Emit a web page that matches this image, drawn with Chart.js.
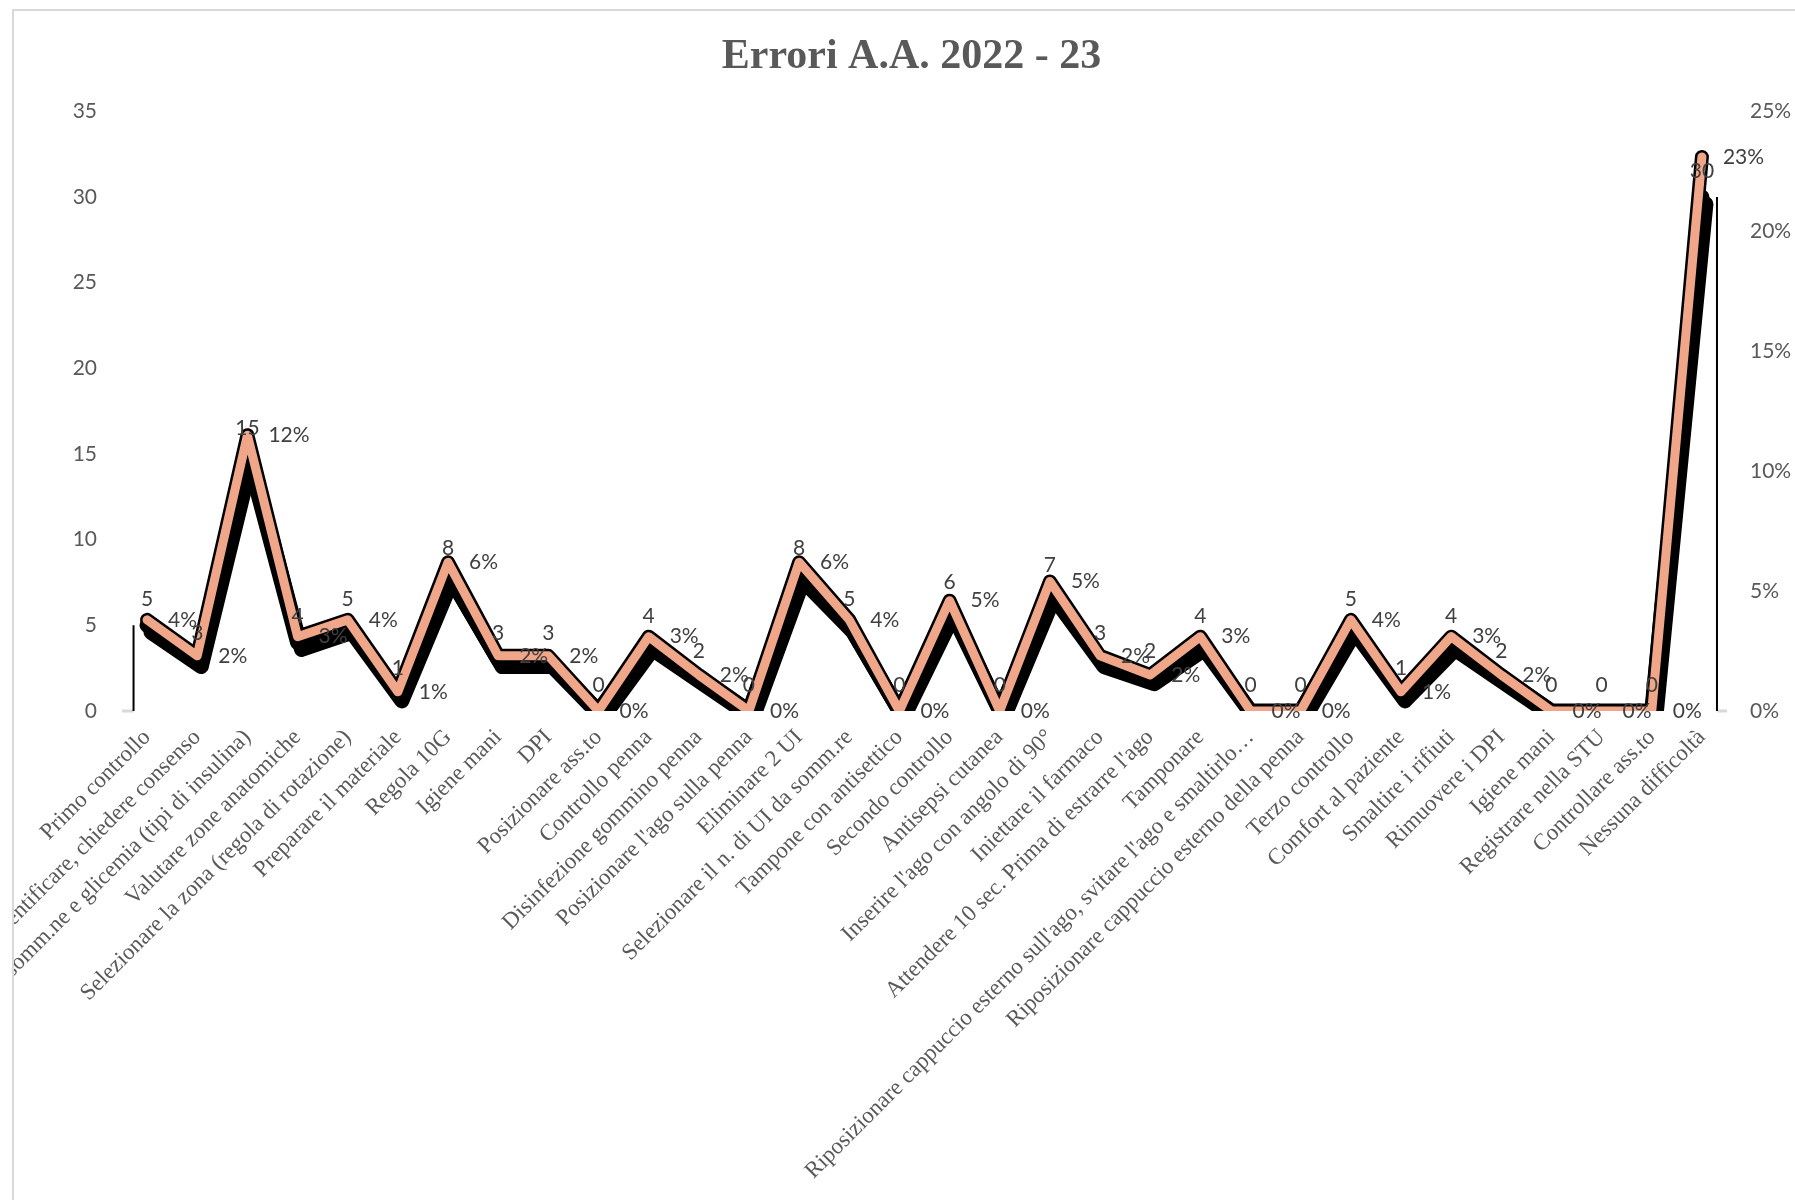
<!DOCTYPE html>
<html>
<head>
<meta charset="utf-8">
<script src="https://cdn.jsdelivr.net/npm/chart.js@4.4.1/dist/chart.umd.min.js"></script>
<style>
  html, body { margin: 0; padding: 0; background: #fff; overflow: hidden; }
  #frame {
    position: absolute; left: 12px; top: 9px; width: 1800px; height: 1200px;
    border-top: 2px solid #d9d9d9; border-left: 2px solid #d9d9d9;
  }
  #chart { position: absolute; left: 14px; top: 11px; }
</style>
</head>
<body>
<div id="frame"></div>
<canvas id="chart" width="1795" height="1189"></canvas>
<script>
// Errori A.A. 2022 - 23 : numero errori per passaggio + percentuale sul totale
const categories = [
  "Primo controllo",
  "Identificare, chiedere consenso",
  "Verificare via di somm.ne e glicemia (tipi di insulina)",
  "Valutare zone anatomiche",
  "Selezionare la zona (regola di rotazione)",
  "Preparare il materiale",
  "Regola 10G",
  "Igiene mani",
  "DPI",
  "Posizionare ass.to",
  "Controllo penna",
  "Disinfezione gommino penna",
  "Posizionare l'ago sulla penna",
  "Eliminare 2 UI",
  "Selezionare il n. di UI da somm.re",
  "Tampone con antisettico",
  "Secondo controllo",
  "Antisepsi cutanea",
  "Inserire l'ago con angolo di 90°",
  "Iniettare il farmaco",
  "Attendere 10 sec. Prima di estrarre l'ago",
  "Tamponare",
  "Riposizionare cappuccio esterno sull'ago, svitare l'ago e smaltirlo…",
  "Riposizionare cappuccio esterno della penna",
  "Terzo controllo",
  "Comfort al paziente",
  "Smaltire i rifiuti",
  "Rimuovere i DPI",
  "Igiene mani",
  "Registrare nella STU",
  "Controllare ass.to",
  "Nessuna difficoltà"
];

const errorCounts = [5, 3, 15, 4, 5, 1, 8, 3, 3, 0, 4, 2, 0, 8, 5, 0, 6, 0, 7, 3, 2, 4, 0, 0, 5, 1, 4, 2, 0, 0, 0, 30];

const errorPercents = [3.8, 2.3, 11.5, 3.1, 3.8, 0.8, 6.2, 2.3, 2.3, 0, 3.1, 1.5, 0, 6.2, 3.8, 0, 4.6, 0, 5.4, 2.3, 1.5, 3.1, 0, 0, 3.8, 0.8, 3.1, 1.5, 0, 0, 0, 23.1];

const countTicks = [0, 5, 10, 15, 20, 25, 30, 35];
const percentTicks = [0, 5, 10, 15, 20, 25];

const SALMON = "#f0a688";
const LABEL_COLOR = "#404040";
const AXIS_COLOR = "#595959";

// black shadow under the count line, black rim under the percent line
const lineEffects = {
  id: "lineEffects",
  beforeDatasetDraw: (chart, args) => {
    const ctx = chart.ctx;
    ctx.save();
    if (args.index === 1) {
      ctx.shadowColor = "#000";
      ctx.shadowBlur = 0;
      ctx.shadowOffsetX = 4;
      ctx.shadowOffsetY = 7;
    }
    if (args.index === 0) {
      const pts = args.meta.data;
      const a = chart.chartArea;
      ctx.save();
      ctx.beginPath();
      ctx.rect(a.left, a.top, a.right - a.left, a.bottom - a.top);
      ctx.clip();
      ctx.beginPath();
      pts.forEach((p, i) => (i ? ctx.lineTo(p.x, p.y) : ctx.moveTo(p.x, p.y)));
      ctx.strokeStyle = "#000";
      ctx.lineWidth = 14;
      ctx.lineJoin = "round";
      ctx.lineCap = "round";
      ctx.stroke();
      ctx.restore();
    }
  },
  afterDatasetDraw: (chart) => {
    chart.ctx.restore();
  },
};

// thin drop lines at both ends + grey axis stubs
const endLines = {
  id: "endLines",
  beforeDatasetsDraw: (chart) => {
    const ctx = chart.ctx;
    const x = chart.scales.x;
    const y = chart.scales.y;
    const step = x.getPixelForValue(1) - x.getPixelForValue(0);
    const last = categories.length - 1;
    const xl = x.getPixelForValue(0) - step * 0.27;
    const xr = x.getPixelForValue(last) + step * 0.3;
    const bottom = y.getPixelForValue(0);
    ctx.save();
    ctx.strokeStyle = "#d9d9d9";
    ctx.lineWidth = 3;
    ctx.beginPath();
    ctx.moveTo(chart.chartArea.left, bottom);
    ctx.lineTo(xl, bottom);
    ctx.moveTo(xr, bottom);
    ctx.lineTo(chart.chartArea.right, bottom);
    ctx.stroke();
    ctx.strokeStyle = "#000";
    ctx.lineWidth = 2;
    ctx.beginPath();
    ctx.moveTo(xl, y.getPixelForValue(errorCounts[0]));
    ctx.lineTo(xl, bottom);
    ctx.moveTo(xr, y.getPixelForValue(errorCounts[last]));
    ctx.lineTo(xr, bottom);
    ctx.stroke();
    ctx.restore();
  },
};

// data labels: counts above the point, percents to the right
const dataLabels = {
  id: "dataLabels",
  afterDatasetsDraw: (chart) => {
    const ctx = chart.ctx;
    ctx.save();
    ctx.font = "21px Lato";
    ctx.fillStyle = LABEL_COLOR;
    ctx.textBaseline = "middle";
    const countMeta = chart.getDatasetMeta(1);
    ctx.textAlign = "center";
    countMeta.data.forEach((p, i) => {
      ctx.fillText(String(errorCounts[i]), p.x, p.y - 26);
    });
    const pctMeta = chart.getDatasetMeta(0);
    ctx.textAlign = "left";
    pctMeta.data.forEach((p, i) => {
      ctx.fillText(Math.round(errorPercents[i]) + "%", p.x + 21, p.y);
    });
    ctx.restore();
  },
};

new Chart(document.getElementById("chart"), {
  type: "line",
  data: {
    labels: categories,
    datasets: [
      {
        label: "%",
        data: errorPercents,
        yAxisID: "y1",
        borderColor: SALMON,
        borderWidth: 9,
        borderJoinStyle: "round",
        borderCapStyle: "round",
        pointRadius: 0,
        tension: 0,
        clip: 0,
        order: 0,
      },
      {
        label: "Errori",
        data: errorCounts,
        yAxisID: "y",
        borderColor: "#000",
        borderWidth: 15,
        borderJoinStyle: "round",
        borderCapStyle: "round",
        pointRadius: 0,
        tension: 0,
        clip: 0,
        order: 1,
      },
    ],
  },
  options: {
    responsive: false,
    animation: false,
    devicePixelRatio: 1,
    layout: { padding: 0 },
    plugins: {
      legend: { display: false },
      tooltip: { enabled: false },
      title: {
        display: true,
        text: "Errori A.A. 2022 - 23",
        color: AXIS_COLOR,
        font: { family: "'Liberation Serif', 'Times New Roman', serif", size: 42, weight: "bold" },
        padding: { top: 21, bottom: 29 },
      },
    },
    scales: {
      x: {
        type: "category",
        offset: true,
        grid: { display: false, drawTicks: false },
        border: { display: false },
        ticks: {
          autoSkip: false,
          minRotation: 45,
          maxRotation: 45,
          padding: 13,
          color: AXIS_COLOR,
          font: { family: "'Liberation Serif', 'Times New Roman', serif", size: 23 },
        },
        afterFit: (scale) => {
          scale.height = 489;
          scale.paddingLeft = 0;
          scale.paddingRight = 0;
        },
      },
      y: {
        position: "left",
        min: countTicks[0],
        max: countTicks[countTicks.length - 1],
        afterBuildTicks: (scale) => {
          scale.ticks = countTicks.map((v) => ({ value: v }));
        },
        grid: { display: false, drawTicks: false },
        border: { display: false },
        ticks: {
          padding: 25,
          color: AXIS_COLOR,
          font: { family: "Lato", size: 21 },
        },
        afterFit: (scale) => {
          scale.width = 108;
        },
      },
      y1: {
        position: "right",
        min: percentTicks[0],
        max: percentTicks[percentTicks.length - 1],
        afterBuildTicks: (scale) => {
          scale.ticks = percentTicks.map((v) => ({ value: v }));
        },
        grid: { display: false, drawTicks: false },
        border: { display: false },
        ticks: {
          padding: 23,
          color: AXIS_COLOR,
          font: { family: "Lato", size: 21 },
          callback: (v) => v + "%",
        },
        afterFit: (scale) => {
          scale.width = 82;
        },
      },
    },
  },
  plugins: [endLines, lineEffects, dataLabels],
});
</script>
</body>
</html>
